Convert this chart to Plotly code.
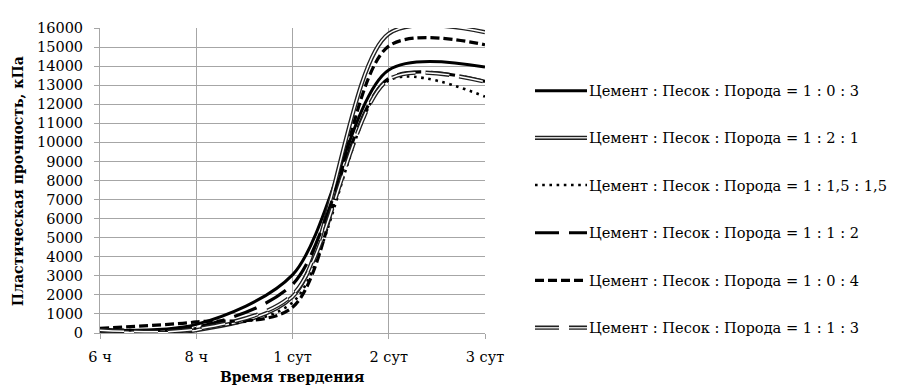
import plotly.graph_objects as go

# ---- data ----
x_labels = ["6 ч", "8 ч", "1 сут", "2 сут", "3 сут"]
x_pos = [0, 1, 2, 3, 4]

series_names = [
    "Цемент : Песок : Порода = 1 : 0 : 3",
    "Цемент : Песок : Порода = 1 : 2 : 1",
    "Цемент : Песок : Порода = 1 : 1,5 : 1,5",
    "Цемент : Песок : Порода = 1 : 1 : 2",
    "Цемент : Песок : Порода = 1 : 0 : 4",
    "Цемент : Песок : Порода = 1 : 1 : 3",
]
s_103 = [150, 450, 3050, 13800, 13950]
s_121 = [100, 150, 1900, 15700, 15780]
s_11515 = [200, 250, 1600, 13250, 12400]
s_112 = [200, 300, 2550, 13350, 13200]
s_104 = [250, 580, 1350, 15050, 15120]
s_113 = [150, 200, 2000, 13300, 13180]
y_ticks = list(range(0, 16001, 1000))
y_tick_text = [str(v) for v in y_ticks]

values = [s_103, s_121, s_11515, s_112, s_104, s_113]

# styles: (kind, color, width, dash)
styles = [
    ("single", "black", 3, "solid"),
    ("double", "#202020", 4.2, "solid"),
    ("single", "black", 2.6, "2.6px,4.6px"),
    ("single", "black", 3.2, "24px,10px"),
    ("single", "black", 3.2, "9px,4px"),
    ("double", "#202020", 4.2, "24px,10px"),
]

FONT = "DejaVu Serif"
SMOOTH = 0.85
OFF = 8  # page body margin
W, H = 904 - OFF, 391 - OFF
L, R, T, B = 100 - OFF, 485 - OFF, 19.6 - OFF, 333 - OFF

fig = go.Figure()
for name, ys, (kind, col, w, dash) in zip(series_names, values, styles):
    fig.add_trace(go.Scatter(
        x=x_pos, y=ys, mode="lines", name=name, showlegend=False,
        line=dict(color=col, width=w, dash=dash, shape="spline", smoothing=SMOOTH),
    ))
    if kind == "double":
        fig.add_trace(go.Scatter(
            x=x_pos, y=ys, mode="lines", showlegend=False, hoverinfo="skip",
            line=dict(color="white", width=1.5, dash=dash, shape="spline", smoothing=SMOOTH),
        ))

# manual legend (positions given in page pixels of the reference)
def px2paper_x(px):
    return (px - OFF - L) / (R - L)

def px2paper_y(py):
    return (B - (py - OFF)) / (B - T)

shapes = []
annotations = []
row_y = [84, 132.5, 181, 230, 279, 327.5]
for name, (kind, col, w, dash), ry in zip(series_names, styles, row_y):
    shapes.append(dict(type="line", xref="paper", yref="paper",
                       x0=px2paper_x(535), x1=px2paper_x(587),
                       y0=px2paper_y(ry), y1=px2paper_y(ry),
                       line=dict(color=col, width=w, dash=dash)))
    if kind == "double":
        shapes.append(dict(type="line", xref="paper", yref="paper",
                           x0=px2paper_x(535), x1=px2paper_x(587),
                           y0=px2paper_y(ry), y1=px2paper_y(ry),
                           line=dict(color="#d8d8d8", width=1.5, dash=dash)))
    annotations.append(dict(xref="paper", yref="paper", x=px2paper_x(587), y=px2paper_y(ry),
                            xanchor="left", yanchor="middle", showarrow=False,
                            text=name, font=dict(family=FONT, size=14.6, color="black")))

annotations.append(dict(xref="paper", yref="paper", x=px2paper_x(292), y=px2paper_y(378),
                        xanchor="center", yanchor="middle", showarrow=False,
                        text="<b>Время твердения</b>", font=dict(family=FONT, size=14, color="black")))
annotations.append(dict(xref="paper", yref="paper", x=px2paper_x(18), y=px2paper_y(177),
                        xanchor="center", yanchor="middle", showarrow=False, textangle=-90,
                        text="<b>Пластическая прочность, кПа</b>", font=dict(family=FONT, size=14, color="black")))

fig.update_layout(
    width=W, height=H,
    margin=dict(l=L, r=W - R, t=T, b=H - B, pad=0),
    paper_bgcolor="white", plot_bgcolor="white",
    font=dict(family=FONT, size=14.5, color="black"),
    showlegend=False,
    shapes=shapes, annotations=annotations,
    xaxis=dict(range=[0, 4], tickvals=x_pos, ticktext=x_labels,
               showgrid=True, gridcolor="#a6a6a6", gridwidth=1,
               showline=True, linecolor="#a6a6a6", linewidth=1,
               ticks="outside", ticklen=5, tickcolor="#a6a6a6",
               ticklabelstandoff=6,
               zeroline=False, fixedrange=True),
    yaxis=dict(range=[0, 16000], tickvals=y_ticks, ticktext=y_tick_text,
               showgrid=True, gridcolor="#a6a6a6", gridwidth=1,
               showline=True, linecolor="#a6a6a6", linewidth=1,
               ticks="outside", ticklen=5, tickcolor="#a6a6a6",
               ticklabelstandoff=8,
               zeroline=False, fixedrange=True),
)

fig.write_html("out.html", config={"displayModeBar": False})
